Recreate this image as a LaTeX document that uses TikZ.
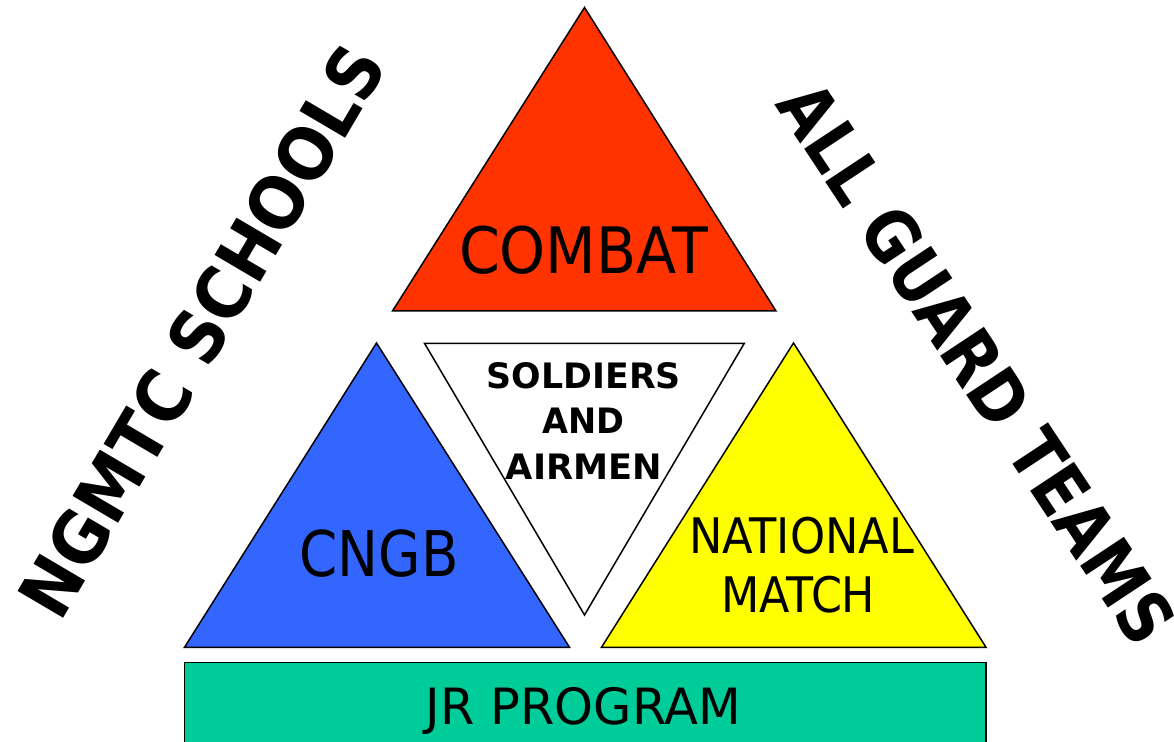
\documentclass[tikz,border=0pt]{standalone}
\usepackage{fontspec}
\setmainfont{DejaVu Sans}
\usepackage{graphicx}
\definecolor{cred}{HTML}{FF3300}
\definecolor{cblue}{HTML}{3366FF}
\definecolor{cyel}{HTML}{FFFF00}
\definecolor{cteal}{HTML}{00CC99}
\newcommand{\fittext}[3]{{\fontsize{#2}{#2}\selectfont\resizebox{#1}{\height}{#3}}}
\newcommand{\fitbold}[3]{{\fontsize{#2}{#2}\selectfont\bfseries\resizebox{#1}{\height}{#3}}}
\tikzset{
  shapebox/.style={draw=black, line width=1.5pt, line join=miter},
  lbl/.style={inner sep=0pt, anchor=base, text=black}
}
\begin{document}
\begin{tikzpicture}[x=1pt,y=1pt]
\useasboundingbox (0,0) rectangle (1174,741);
\clip (0,0) rectangle (1174,741);
% shapes
\draw[shapebox, fill=cred] (584.5,733.5) -- (392.5,430) -- (776,430) -- cycle;
\draw[shapebox, fill=white] (424.5,397.7) -- (744.3,397.7) -- (584.5,126) -- cycle;
\draw[shapebox, fill=cblue] (376.5,398) -- (184.5,93.7) -- (569.5,93.7) -- cycle;
\draw[shapebox, fill=cyel] (793.5,398) -- (601.5,93.7) -- (986,93.7) -- cycle;
\draw[shapebox, fill=cteal] (184.5,-10) rectangle (986,78.3);
% labels
\node[lbl] (combat) at (583.5,467.7) {\fittext{249pt}{64pt}{COMBAT}};
\node[lbl] (cngb) at (379.2,164.3) {\fittext{159pt}{63pt}{CNGB}};
\node[lbl] (nat) at (801.5,187) {\fittext{225pt}{49pt}{NATIONAL}};
\node[lbl] (match) at (798.3,128.3) {\fittext{154pt}{49pt}{MATCH}};
\node[lbl] (jr) at (583.4,17) {\fittext{315pt}{50pt}{JR PROGRAM}};
\node[lbl] (sold) at (583.8,352.3) {\fitbold{194pt}{35pt}{SOLDIERS}};
\node[lbl] (and) at (583.7,307) {\fitbold{82pt}{35pt}{AND}};
\node[lbl] (air) at (583.8,261) {\fitbold{156pt}{35pt}{AIRMEN}};
% side titles
\node[lbl, rotate=59.5] (ngmtc) at (224.2,396.7) {\fitbold{647pt}{72.6pt}{NGMTC SCHOOLS}};
\node[lbl, rotate=-56.5] (guard) at (955.2,363.4) {\fitbold{654pt}{72pt}{ALL GUARD TEAMS}};
\end{tikzpicture}
\end{document}
